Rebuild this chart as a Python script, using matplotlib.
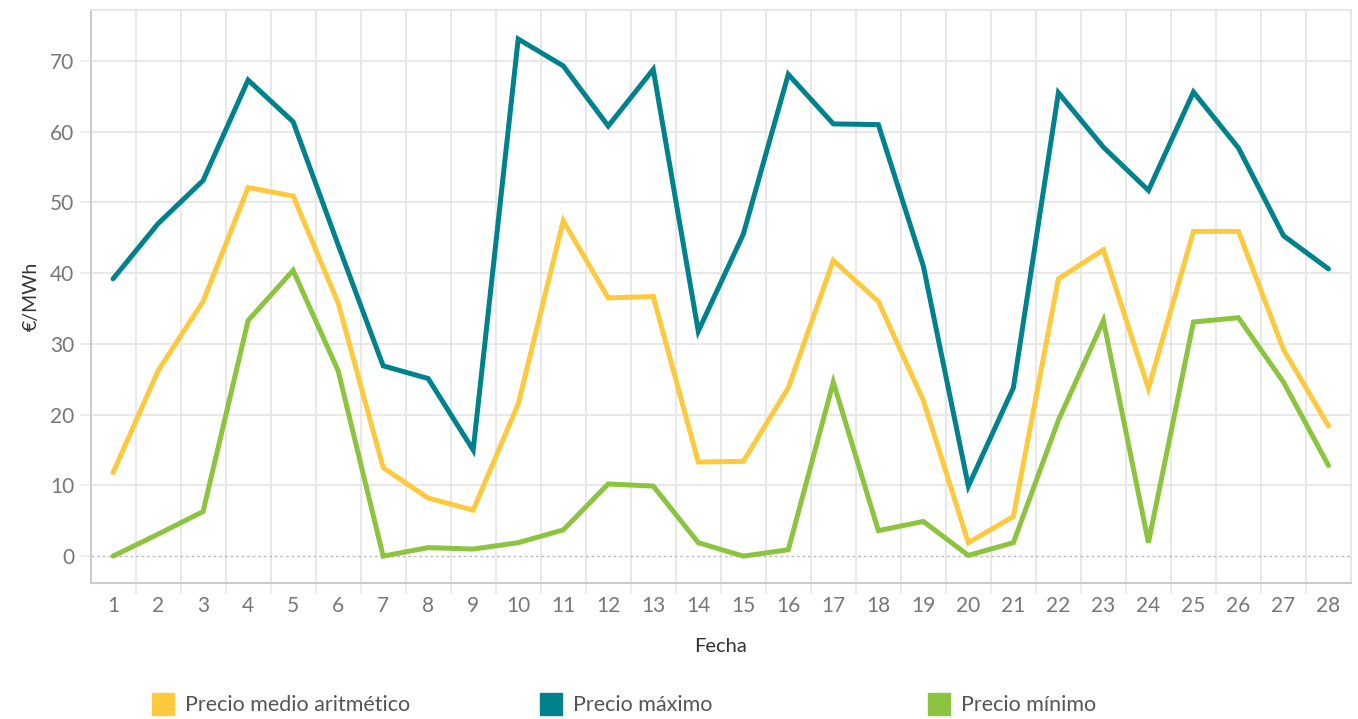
import matplotlib
matplotlib.use("Agg")
import matplotlib.pyplot as plt
from matplotlib.patches import Rectangle

days = list(range(1, 29))
precio_maximo = [39.2, 47.0, 53.1, 67.3, 61.4, 44.0, 26.9, 25.1, 15.0, 73.1,
                 69.3, 60.8, 68.8, 31.8, 45.5, 68.1, 61.1, 61.0, 41.0, 9.9,
                 23.8, 65.5, 57.8, 51.7, 65.6, 57.7, 45.3, 40.6]
precio_medio = [11.8, 26.2, 36.0, 52.1, 50.9, 35.8, 12.5, 8.2, 6.5, 21.5,
                47.4, 36.5, 36.7, 13.3, 13.4, 23.8, 41.8, 36.0, 22.0, 1.9,
                5.6, 39.2, 43.3, 23.7, 45.9, 45.9, 29.2, 18.4]
precio_minimo = [0.0, 3.1, 6.3, 33.3, 40.4, 26.2, 0.0, 1.2, 1.0, 1.9,
                 3.7, 10.2, 9.9, 1.9, 0.0, 0.9, 24.6, 3.6, 4.9, 0.1,
                 1.9, 19.2, 33.3, 1.9, 33.1, 33.7, 24.6, 12.8]
series_names = ["Precio medio aritmético", "Precio máximo", "Precio mínimo"]
colors = ["#FCC93F", "#00828C", "#8CC43F"]
yticks = [0, 10, 20, 30, 40, 50, 60, 70]

plt.rcParams['font.family'] = ['Lato', 'DejaVu Sans']

fig = plt.figure(figsize=(13.58, 7.19), dpi=100)
ax = fig.add_axes([91/1358, 1-583/719, (1351-91)/1358, (583-10)/719])

order = [(precio_minimo, colors[2]), (precio_medio, colors[0]), (precio_maximo, colors[1])]
for vals, c in order:
    ax.plot(days, vals, color=c, lw=3.6, solid_capstyle='round', solid_joinstyle='miter', zorder=3)

ax.set_xlim(0.51, 28.5)
ax.set_ylim(-3.8, 77.2)
ax.set_yticks(yticks)
ax.set_xticks(days)
ax.set_xticks([d + 0.5 for d in days[:-1]], minor=True)

for y in yticks[1:]:
    ax.axhline(y, color="#E6E6E6", lw=1.3, zorder=1)
ax.axhline(0, color="#BBBBBB", lw=1.0, ls=(0, (2, 2)), zorder=2)
for d in days[:-1]:
    ax.axvline(d + 0.5, color="#E6E6E6", lw=1.3, zorder=1)

ax.tick_params(axis='x', which='major', length=0, labelsize=15, labelcolor="#777777", pad=9)
ax.tick_params(axis='x', which='minor', length=8, color="#EBEBEB", width=1.3)
ax.tick_params(axis='y', which='major', labelsize=15, labelcolor="#777777", pad=4,
               length=8, color="#EBEBEB", width=1.3, direction='out')

for s in ['top', 'right']:
    ax.spines[s].set_color("#E6E6E6")
    ax.spines[s].set_linewidth(1.3)
for s in ['left', 'bottom']:
    ax.spines[s].set_color("#CCCCCC")
    ax.spines[s].set_linewidth(1.5)

ax.set_ylabel("€/MWh", fontsize=14, color="#333333")
ax.yaxis.set_label_coords(-0.041, 0.5)
fig.text(720/1358, 1-646/719, "Fecha", ha='center', va='center', fontsize=14.5, color="#333333")

leg_x = [152, 540, 928]
for x0, name, c in zip(leg_x, series_names, colors):
    fig.patches.append(Rectangle((x0/1358, 1-715/719), 22/1358, 22/719,
                                 transform=fig.transFigure, color=c, figure=fig))
    fig.text((x0+33)/1358, 1-705/719, name, ha='left', va='center', fontsize=15.5, color="#555555")

fig.savefig("out.png", dpi=100)
